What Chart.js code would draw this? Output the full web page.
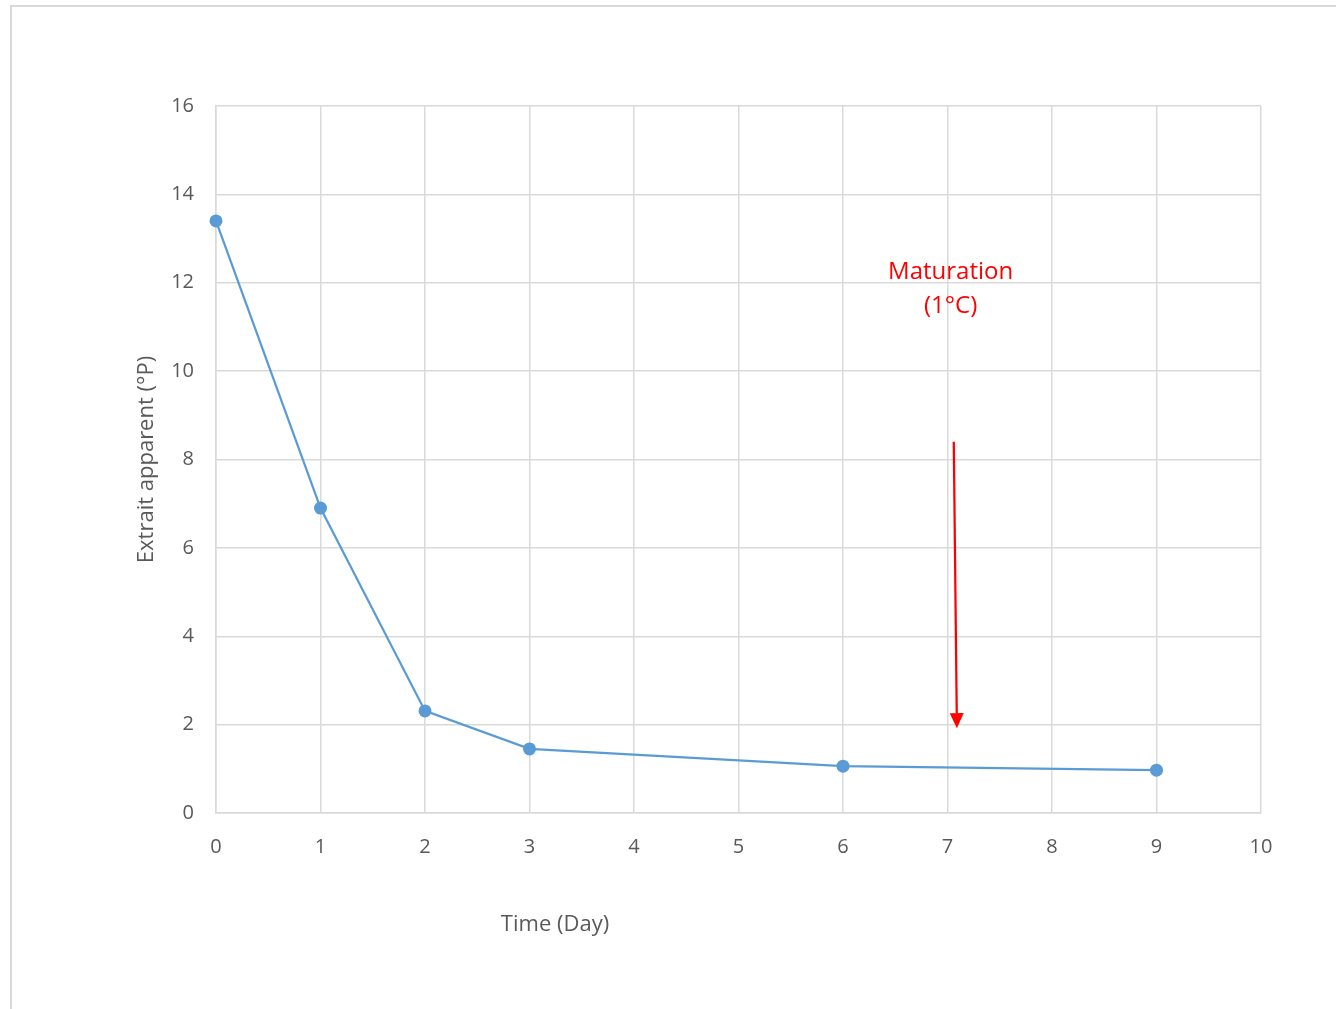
<!DOCTYPE html>
<html>
<head>
<meta charset="utf-8">
<script src="https://cdn.jsdelivr.net/npm/chart.js@4.4.1/dist/chart.umd.min.js"></script>
<style>
    body { margin: 0; background: #fff; overflow: hidden; }
    #wrap { position: relative; width: 1336px; height: 1009px; }
    #frame {
        position: absolute; left: 10px; top: 5px; right: -5px; bottom: -5px;
        border-left: 2px solid #d9d9d9; border-top: 2px solid #d9d9d9;
        pointer-events: none;
    }
</style>
</head>
<body>
<div id="wrap">
    <canvas id="extractChart" width="1336" height="1009"></canvas>
    <div id="frame"></div>
</div>
<script>
// données
const days = [0, 1, 2, 3, 6, 9];
const extract = [13.4, 6.9, 2.31, 1.45, 1.06, 0.97];
const yTicks = [0, 2, 4, 6, 8, 10, 12, 14, 16];
const xTicks = [0, 1, 2, 3, 4, 5, 6, 7, 8, 9, 10];

const FONT = '"Open Sans", "Liberation Sans", sans-serif';
const GREY = '#595959';
const GRID = '#d9d9d9';

// annotation "Maturation" (en unités de données)
const noteLines = ['Maturation', '(1°C)'];
const noteAt = { x: 7.03, y: [12.25, 11.47] };
const arrowFrom = { x: 7.06, y: 8.4 };
const arrowTo = { x: 7.09, y: 1.92 };

const annotationPlugin = {
    id: 'annotation',
    afterDatasetsDraw(chart) {
        const { ctx, scales: { x, y }, chartArea } = chart;
        ctx.save();
        // titre de l'axe X
        ctx.fillStyle = GREY;
        ctx.font = '22px ' + FONT;
        ctx.textAlign = 'center';
        ctx.textBaseline = 'middle';
        ctx.fillText('Time (Day)', chartArea.left + 339, chartArea.bottom + 112);

        // texte rouge
        ctx.fillStyle = '#ff0000';
        ctx.font = '24px ' + FONT;
        noteLines.forEach((t, i) => {
            ctx.fillText(t, x.getPixelForValue(noteAt.x), y.getPixelForValue(noteAt.y[i]));
        });

        // flèche
        const x1 = x.getPixelForValue(arrowFrom.x), y1 = y.getPixelForValue(arrowFrom.y);
        const x2 = x.getPixelForValue(arrowTo.x), y2 = y.getPixelForValue(arrowTo.y);
        const ang = Math.atan2(y2 - y1, x2 - x1);
        const head = 15, half = 7;
        const bx = x2 - head * Math.cos(ang), by = y2 - head * Math.sin(ang);
        ctx.strokeStyle = '#ff0000';
        ctx.lineWidth = 2.25;
        ctx.beginPath();
        ctx.moveTo(x1, y1);
        ctx.lineTo(bx, by);
        ctx.stroke();
        ctx.beginPath();
        ctx.moveTo(x2, y2);
        ctx.lineTo(bx - half * Math.sin(ang), by + half * Math.cos(ang));
        ctx.lineTo(bx + half * Math.sin(ang), by - half * Math.cos(ang));
        ctx.closePath();
        ctx.fill();
        ctx.restore();
    }
};

function initChart() {
    const ctx = document.getElementById('extractChart').getContext('2d');
    new Chart(ctx, {
        type: 'line',
        data: {
            datasets: [{
                data: days.map((d, i) => ({ x: d, y: extract[i] })),
                borderColor: '#5b9bd5',
                backgroundColor: '#5b9bd5',
                borderWidth: 2.25,
                pointRadius: 6.5,
                pointBorderWidth: 0,
                tension: 0,
                clip: false
            }]
        },
        options: {
            responsive: false,
            animation: false,
            layout: { padding: { top: 106, right: 75, left: 0, bottom: 0 } },
            plugins: { legend: { display: false }, tooltip: { enabled: false } },
            scales: {
                x: {
                    type: 'linear',
                    min: 0, max: 10,
                    afterBuildTicks: s => { s.ticks = xTicks.map(v => ({ value: v })); },
                    grid: { color: GRID, lineWidth: 1.5, drawTicks: false },
                    border: { color: GRID, width: 1.5 },
                    ticks: { color: GREY, font: { family: FONT, size: 20 }, padding: 22 },
                    afterFit: s => { s.height = 196; }
                },
                y: {
                    min: 0, max: 16,
                    afterBuildTicks: s => { s.ticks = yTicks.map(v => ({ value: v })); },
                    grid: { color: GRID, lineWidth: 1.5, drawTicks: false },
                    border: { color: GRID, width: 1.5 },
                    ticks: { color: GREY, font: { family: FONT, size: 20 }, padding: 22 },
                    title: {
                        display: true,
                        text: 'Extrait apparent (°P)',
                        color: GREY,
                        font: { family: FONT, size: 22 },
                        padding: { top: 134, bottom: 0 }
                    },
                    afterFit: s => { s.width = 216; }
                }
            }
        },
        plugins: [annotationPlugin]
    });
}

document.addEventListener('DOMContentLoaded', initChart);
</script>
</body>
</html>
